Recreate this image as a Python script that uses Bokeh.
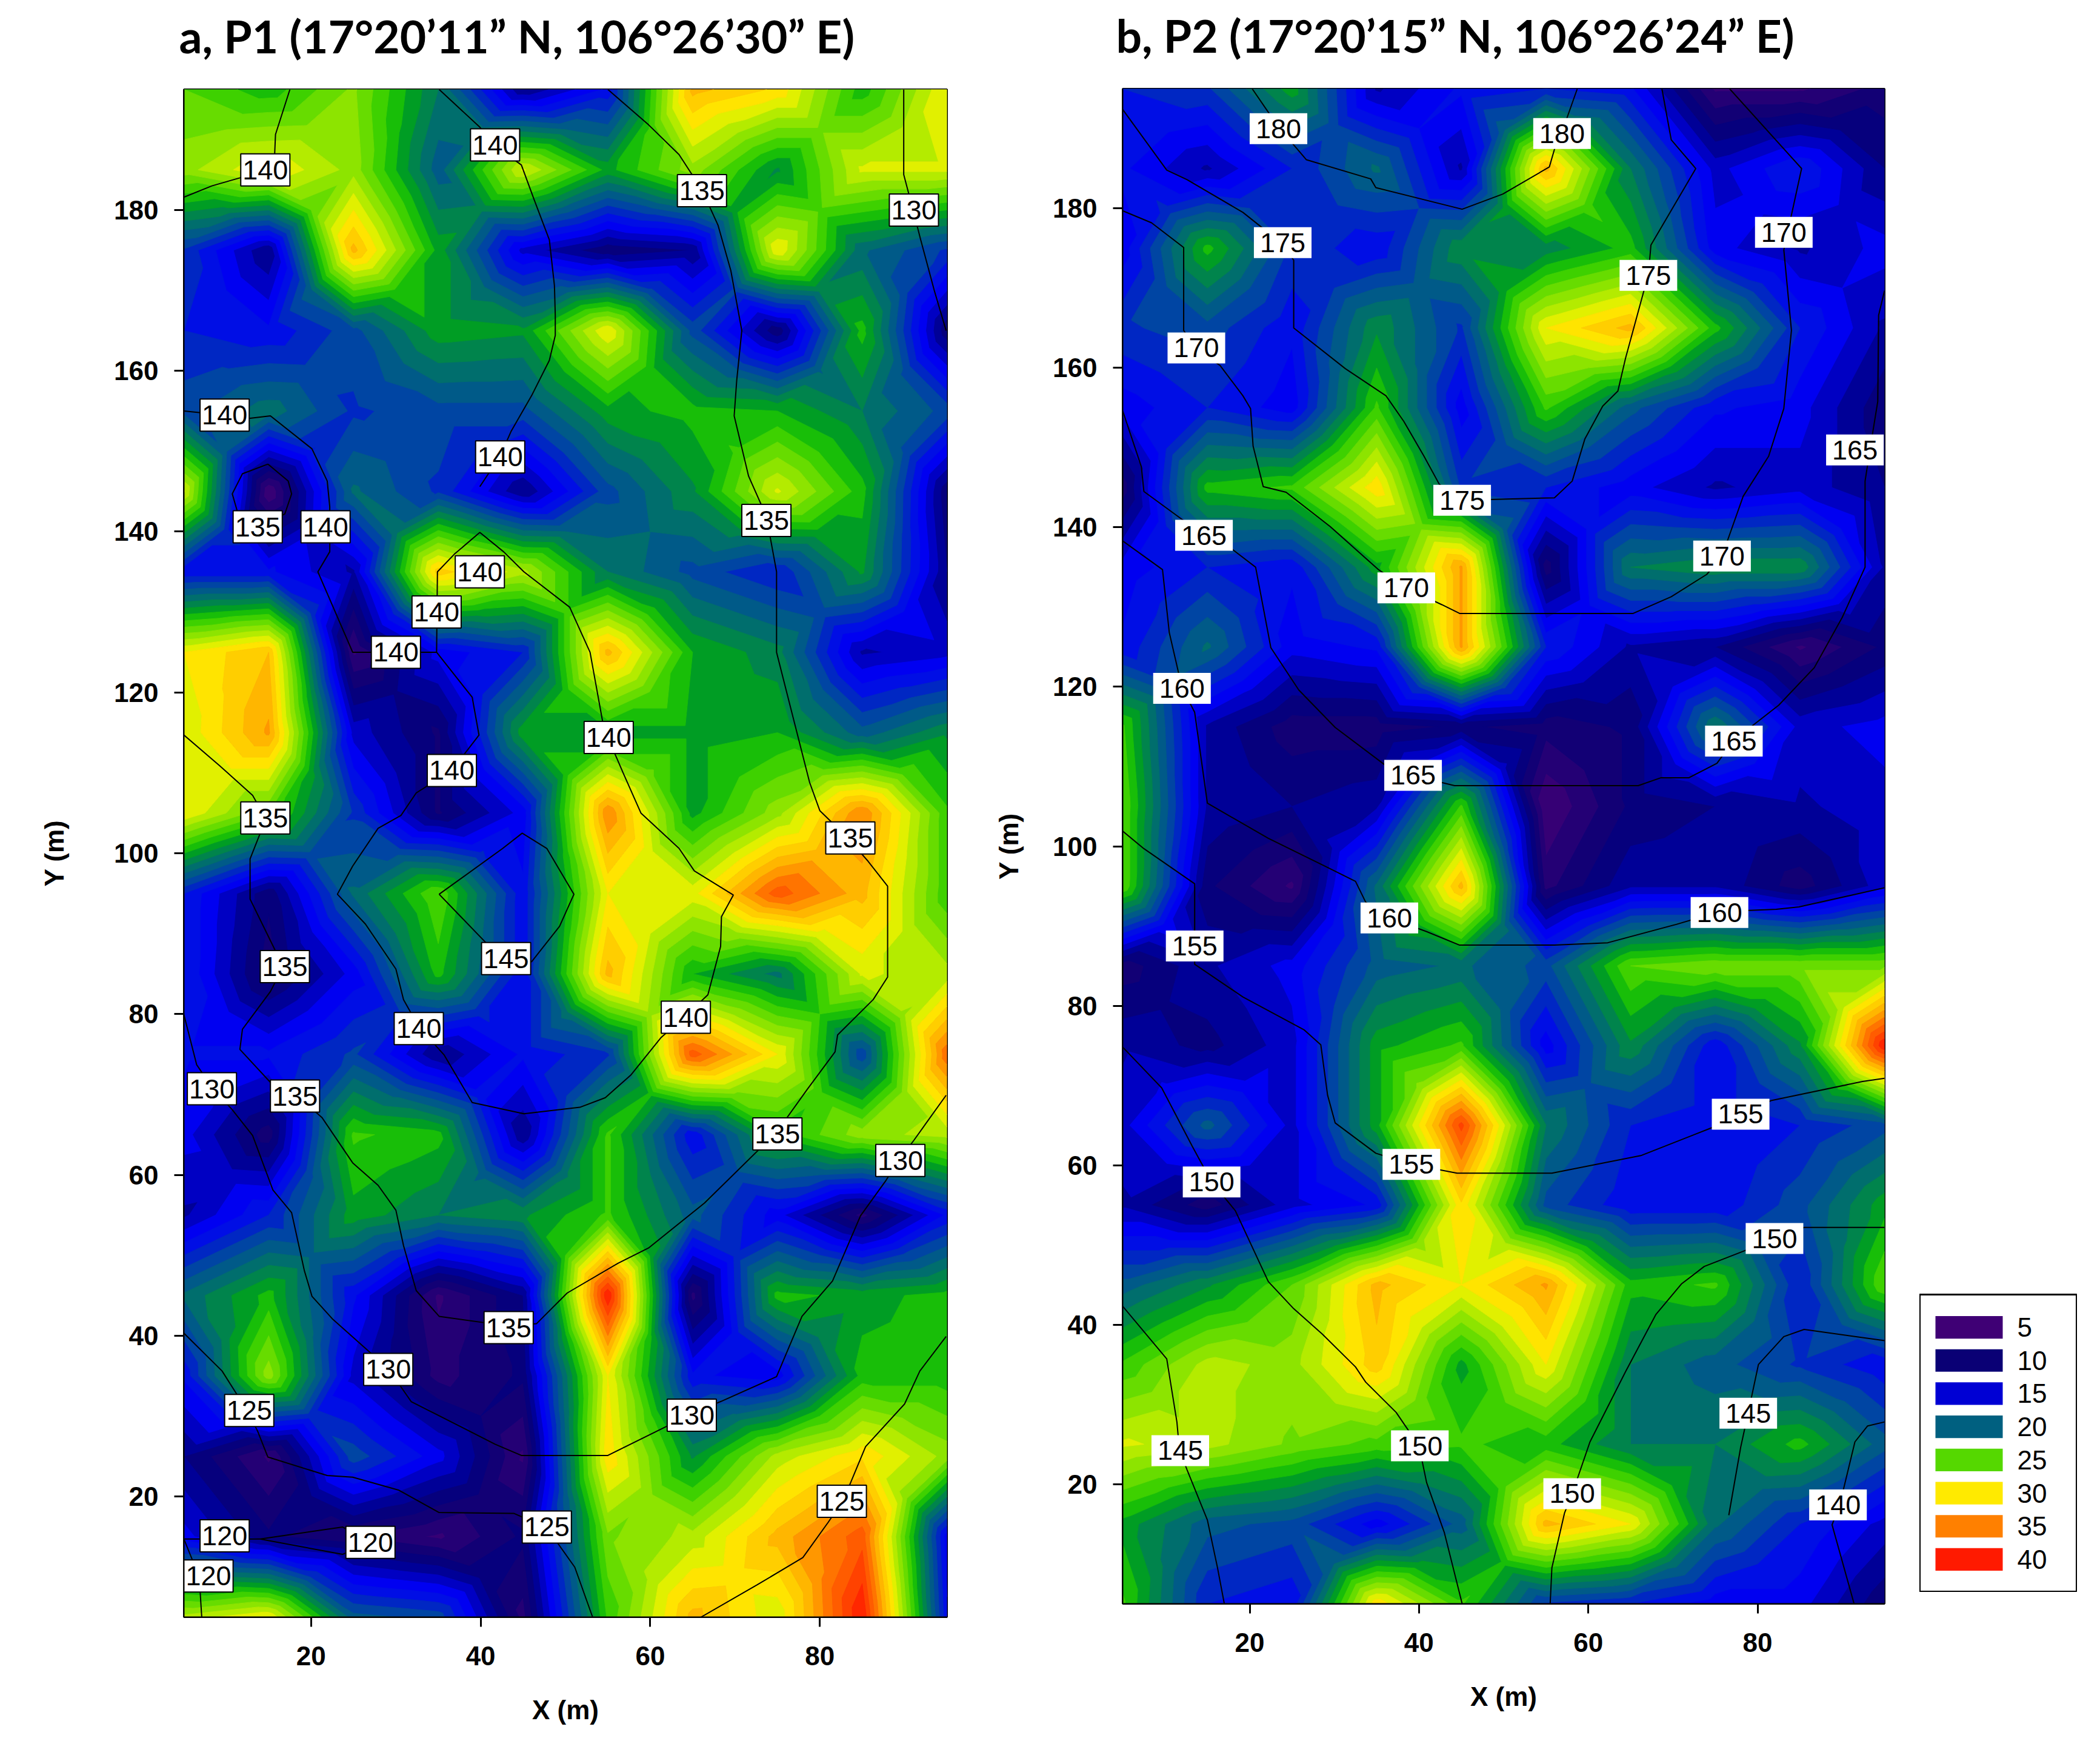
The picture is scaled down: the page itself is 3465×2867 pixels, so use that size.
import numpy as np
from contourpy import FillType, contour_generator
from bokeh.core.properties import value
from bokeh.embed import file_html
from bokeh.layouts import row
from bokeh.models import ColumnDataSource, FixedTicker, Label, Range1d, Title
from bokeh.plotting import figure
from bokeh.resources import INLINE

x_nodes = [5, 15, 25, 35, 45, 55, 65, 75, 85, 95]
y_nodes = [195, 185, 175, 165, 155, 145, 135, 125, 115, 105, 95, 85, 75, 65, 55, 45, 35, 25, 15, 5]

p1_grid = [
    [25, 23, 26.5, 20, 10, 14, 33, 31, 23, 30],
    [27, 30, 27, 18, 29, 22, 27, 21, 29, 29],
    [16, 10, 33, 22, 12, 9, 10, 30, 19, 16],
    [15, 14, 17, 22, 21.5, 30, 17, 9, 23, 9],
    [17, 19.5, 16, 17, 17, 22, 23, 22.5, 20, 17],
    [29, 5, 19, 16, 10, 17, 21, 29, 23, 9],
    [14, 14, 11, 32, 28, 20, 17, 15, 21.5, 10],
    [30, 32.5, 6, 13, 15, 33, 22.5, 20.5, 11, 12],
    [29, 34, 12, 8.5, 22, 22, 22, 22.5, 18, 21],
    [30, 25, 16, 8.5, 13, 35, 22, 27, 35, 24],
    [15, 9, 19, 25, 14, 30, 29.5, 37, 33, 24],
    [15, 8, 13, 23, 14, 33, 22.5, 19.5, 29, 28],
    [14, 14, 16.5, 10, 14, 16, 37, 30, 16.5, 36],
    [13, 8, 24, 23, 10, 24, 14, 23, 27, 28],
    [11, 15, 22, 20, 21, 24, 18, 13, 7, 14],
    [19, 23, 14, 6, 10, 40, 7, 23, 22, 23],
    [14, 27, 12, 7, 9, 30, 14, 13, 23, 23],
    [10, 6, 17, 13, 6, 31, 21, 28, 31, 27],
    [13, 9, 7.5, 6, 9, 26, 28, 33, 37, 13],
    [28, 30, 18, 17, 7, 24, 33, 29, 40, 14],
]

p2_grid = [
    [15, 16, 22, 11, 14, 15, 14, 6, 6, 8],
    [14, 11, 15, 19, 11, 33, 20, 12, 15, 10],
    [13, 23, 16, 14, 21, 20.5, 23, 13, 11, 13],
    [16, 17, 14, 21, 16, 30, 33, 23, 15, 11],
    [13, 15, 13, 24, 13, 24, 18, 14, 13, 9],
    [8, 23, 24, 31, 16, 15, 13, 11, 12, 10],
    [13, 15, 14, 22, 34, 8, 20, 21, 21, 11],
    [14, 19, 13, 14, 34, 15, 11, 10, 6, 9],
    [24, 11, 8, 8, 9, 8, 9, 20, 12, 13],
    [25, 11, 10, 11, 24, 5, 9, 10, 11, 12],
    [25, 9, 6, 19, 33, 7, 11, 11, 8, 12],
    [8, 11, 13, 18, 19, 17, 25, 26, 26, 26],
    [11, 9.5, 12, 22, 24, 13, 21, 14, 21, 40],
    [12, 18, 12, 22, 38, 20, 15, 14, 15, 17],
    [11, 8, 12, 14, 31, 17, 14, 14, 17, 22],
    [18, 21, 25, 33, 30, 34, 23, 24, 15, 25],
    [24, 28, 27, 32, 22, 30, 20, 18, 16, 14],
    [29, 28, 26, 24.5, 24, 23, 20, 20, 23, 18],
    [22, 18, 17, 13, 18, 33, 30, 19, 15, 12],
    [24, 15, 14, 31, 24, 16, 15, 13, 13, 9],
]

# elevation isolines, (x, y) vertices in metres
p1_lines = [
    [(17.5, 195), (15.8, 189.4), (15.7, 186.9), (14.6, 185), (11.6, 184), (8.3, 183), (5, 181.6)],
    [(35.1, 195), (39.9, 190.3), (41.7, 188), (44.8, 185.6), (46.3, 181.3), (48.1, 176.3), (48.7, 170.6),
     (48.8, 166.9), (48.8, 164.4), (48.1, 161.3), (46, 156.9), (43.6, 152.5), (42.3, 149.4), (39.9, 145.6)],
    [(55, 195), (59.8, 190.6), (63.4, 186.9), (66.1, 182.5), (68, 178.1), (69.5, 172.5), (70.8, 165),
     (70.2, 158.8), (69.9, 154.4), (71.6, 146.9), (73.7, 141.9), (74.9, 135), (74.9, 125), (76.1, 120),
     (78.8, 108.8), (80, 105.3), (83.3, 101.9), (85.7, 99), (88, 95.9), (88, 84.6), (86.3, 81.8), (82.1, 77.4),
     (81.8, 75.3), (78.5, 70.6), (74.9, 65.3), (66.4, 56.5), (59.8, 50.9), (56.2, 49), (50.2, 45.3),
     (46.6, 41.5), (43.3, 41.2), (35.1, 42.4), (32.4, 45.6), (30.9, 51.2), (30, 55.6), (27.9, 58.7),
     (24.9, 61.5), (21.3, 67.1), (18.3, 69.9), (15.2, 71.5), (11.6, 75.6), (11.9, 78.1), (15.2, 82.8),
     (16.7, 85.9), (12.8, 94.3), (12.8, 99.3), (14, 102.5), (14.6, 104.4), (13.1, 107.2), (9.2, 110.9),
     (5, 114.7)],
    [(14.9, 148.4), (17.3, 146.3), (17.7, 144.7), (16.9, 142.2), (13.7, 140.6), (11.3, 142.5), (10.7, 144.7),
     (11.9, 147.2), (14.9, 148.4)],
    [(5, 155), (9.8, 154.5), (12.8, 154.1), (15.2, 154.4), (20.1, 150.3), (21.9, 146.3), (22.2, 143.1),
     (22.2, 137.5), (20.8, 135), (24.9, 125), (30, 125), (34.8, 125), (39, 119.4), (39.8, 114.7), (36.6, 110.3),
     (32.4, 107.5), (30.6, 104.7), (27.9, 103.1), (24.9, 98.4), (23.1, 94.9), (26.4, 91.2), (30, 85.6),
     (30.9, 81.8), (32.7, 78.4), (35.7, 74.9), (39, 69), (45.1, 67.6), (51.7, 68.4), (54.7, 69.6), (57.7, 72.4),
     (61.3, 77.1), (64, 79.6), (66.8, 82.4), (68.3, 88.4), (68.4, 92.1), (69.8, 94.8), (65.2, 97.8),
     (63.4, 100.6), (58.9, 105), (56.8, 110), (55, 114.4), (54.4, 116.3), (52.9, 125), (50.5, 130.6),
     (45.1, 135), (42.7, 137.5), (39.9, 139.9), (36.9, 137.2), (34.9, 135), (34.8, 125)],
    [(35.1, 94.9), (42.6, 100.6), (44.9, 102.5), (47.8, 100.6), (51, 94.9), (49.3, 90.9), (46, 86.5), (43, 86.8),
     (40.5, 89), (35.1, 94.9)],
    [(89.9, 195), (89.9, 184.4), (91, 180), (91.9, 176.3), (93.5, 170), (94.9, 165)],
    [(5, 79.9), (6.5, 73.7), (8.3, 70.9), (10.7, 68.1), (13.1, 64.9), (15.5, 58.1), (17.7, 55.3), (19.2, 48.1),
     (20.1, 44.9), (22.5, 42.1), (29.1, 35.9), (31.8, 31.8), (41.7, 26.5), (44.8, 25.1), (55, 25.1), (61.9, 28.7),
     (64.9, 30.3), (68.3, 31.8), (74.9, 34.9), (77.9, 42.4), (81.5, 46.8), (84.8, 54.9), (87.8, 59.3),
     (89.3, 61.8), (91.1, 64.3), (94.9, 69.9)],
    [(5, 40.3), (9.5, 35.6), (12.5, 30.6), (13.7, 28.1), (14.9, 24.9), (21.9, 22.6), (24.9, 22.4), (30.3, 20.8),
     (35.1, 18), (43.9, 17.9), (47.8, 16.1), (51.1, 11.2), (53.2, 5)],
    [(94.9, 39.9), (91.8, 35.6), (90, 31.5), (85.4, 26.2), (82.8, 19.6), (81, 16.8), (78, 12.4), (72.6, 9), (66, 5)],
    [(5, 14.7), (14, 14.7), (23.7, 16.2), (27, 14.3), (23.7, 12.8), (14, 14.7)],
    [(5, 14.7), (6.8, 10), (7.1, 5)],
]

p2_lines = [
    [(20.3, 195), (23.4, 190.2), (26.7, 186.1), (34.3, 183.7), (34.9, 182.6), (45.1, 179.9), (49.9, 181.8),
     (55.4, 185.2), (56, 187.4), (56.9, 189.6), (58.7, 195)],
    [(5, 192.4), (10.2, 184.8), (12.6, 183.6), (19.2, 179.5), (23.7, 175.7), (25.2, 173.5), (25.2, 165),
     (31.3, 159.9), (36.1, 156.5), (38.2, 153.3), (40.6, 148.9), (42.4, 145.4), (45.1, 143.4), (56, 143.7),
     (58.1, 145.8), (59.6, 151.1), (61.7, 155.2), (63.5, 157.1), (64.4, 161.2), (66.5, 169.4), (67.1, 171.6),
     (67.4, 175.4), (72.7, 185), (69.8, 188.6), (68.7, 195)],
    [(5, 179.7), (8.4, 178.2), (12.2, 175.1), (12.2, 164.7), (13.5, 162.5), (16.5, 160.3), (19.2, 156.5),
     (20.1, 154.9), (20.4, 150.2), (21.6, 145.1), (24.3, 144.4), (29.5, 140.1), (35.2, 134.7), (38.5, 132.4),
     (42.7, 130.3), (44.8, 129.2), (65.3, 129.2), (69.8, 131.3), (74, 134.1), (75.8, 136.4), (78.3, 143.9),
     (81.3, 148.9), (83.1, 154.9), (84, 164.7), (83.1, 174.8), (85.2, 185), (76.7, 195)],
    [(5, 154.6), (7.2, 147.6), (7.5, 144.5), (12, 141), (14.5, 139.1), (18, 137.2), (20.7, 135), (22.5, 124.9),
     (25.8, 119.6), (30.1, 114.9), (36.1, 110.1), (39.2, 108.9), (44.2, 107.6), (65.9, 107.6), (68.6, 108.6),
     (71.9, 108.6), (75.2, 110.4), (77.2, 113.3), (82.5, 117.7), (86.7, 122.4), (90, 128.7), (92.7, 135),
     (92.7, 145.8), (93.3, 149.9), (94.2, 155.8), (94.3, 166.6), (95, 169.7)],
    [(5, 138.3), (9.7, 134.7), (10.5, 126.8), (12, 119.9), (13.5, 116.8), (15, 105.4), (22.2, 101), (28.9, 97.5),
     (32.5, 95.6), (33.7, 93), (36.5, 91), (40.9, 89.3), (44.8, 87.6), (56, 87.6), (62.3, 87.9), (70.4, 90.2),
     (75.5, 91.8), (82.2, 92.1), (84.9, 92.4), (95, 94.8)],
    [(5, 101.9), (7.5, 99.7), (13.5, 95.3), (13.5, 85.2), (19.2, 81.1), (26.4, 77), (28.4, 75.1), (29.2, 68.8),
     (30.1, 65.3), (34.9, 61.5), (39.1, 60.1), (44.5, 59), (55.7, 59), (66.2, 61.2), (74.6, 64.7), (78, 66.4),
     (81.6, 68.1), (92.4, 70.5), (95, 70.9)],
    [(5, 74.8), (9.6, 69.7), (13.2, 62.4), (15.5, 57.9), (18.3, 54.3), (22.2, 45.4), (25.2, 42), (28.6, 38.8),
     (32.5, 34.7), (33.7, 32.8), (37.3, 29), (40, 24.8), (40.9, 20.2), (43, 13.9), (45.1, 5)],
    [(55.5, 5), (55.7, 9.5), (57.2, 16.4), (58.1, 18.8), (60.2, 25.3), (64.4, 34.1), (68, 41.3), (71, 45.1),
     (73.7, 47.3), (78.3, 49.2), (82, 50.8), (85.5, 52.2), (95, 52.2)],
    [(5, 42.3), (10.2, 35.7), (11.4, 27.8), (11.7, 24.3), (12.6, 21.8), (15, 15.5), (16.2, 9.5), (17, 5)],
    [(95, 38), (85.5, 39.4), (83.1, 38.5), (80.1, 35), (78.9, 29), (78, 24.6), (76.6, 16.1)],
    [(95, 27.8), (93, 27.3), (91.5, 25.3), (89.7, 17.4), (88.8, 14.9), (91.4, 5)],
]

p1_labels = ["140", "140", "135", "130", "140", "140", "135", "140", "135", "140", "140", "140", "140", "140", "135",
             "135", "145", "135", "140", "140", "130", "135", "135", "130", "135", "130", "125", "130", "125", "125",
             "120", "120", "120"]
p1_label_x = [14.6, 41.7, 66.1, 91.1, 9.8, 42.3, 13.7, 21.7, 73.7, 39.9, 34.8, 30, 55.1, 36.6, 14.6,
              83.6, 43, 16.9, 32.7, 64.2, 8.3, 18.1, 75, 89.5, 43.3, 29.1, 12.7, 64.9, 82.6, 47.8,
              9.8, 27, 7.9]
p1_label_y = [185, 188.1, 182.4, 180, 154.5, 149.3, 140.6, 140.6, 141.4, 135, 130, 125, 114.4, 110.3, 104.4,
              101.9, 86.9, 85.9, 78.2, 79.6, 70.7, 69.8, 65.1, 61.8, 41, 35.8, 30.7, 30.1, 19.4, 16.2,
              15.1, 14.3, 10.1]

p2_labels = ["180", "180", "175", "170", "175", "170", "165", "175", "165", "170", "170", "160", "165", "165",
             "160", "160", "155", "155", "155", "150", "150", "145", "145", "150", "150", "140"]
p2_label_x = [23.4, 56.9, 23.9, 83.1, 67.1, 13.7, 91.5, 45.1, 14.6, 75.8, 38.5, 12, 77.2, 39.3,
              36.5, 75.5, 13.5, 78, 39.1, 15.5, 82, 78.9, 11.8, 40.1, 58.1, 89.5]
p2_label_y = [190, 189.4, 175.7, 177, 171.6, 162.5, 149.7, 143.4, 139, 136.4, 132.4, 119.8, 113.2, 108.9,
              91, 91.7, 87.5, 66.4, 60.1, 57.9, 50.8, 28.9, 24.2, 24.8, 18.8, 17.4]

legend_levels = [5, 10, 15, 20, 25, 30, 35, 40]
legend_colors = ["#3f0075", "#0a0075", "#0000d4", "#006080", "#55d800", "#ffea00", "#ff8000", "#ff1a00"]

# colour ramp stops of the filled map
ramp_values = [2.5, 5, 8, 10, 12, 13.5, 15, 17, 20, 22, 23.5, 25, 27.5, 29, 30, 32, 34, 35, 37.5, 40, 45]
ramp_colors = [(64, 0, 117), (64, 0, 117), (20, 0, 117), (0, 0, 130), (0, 0, 200), (0, 0, 255), (0, 24, 212),
               (0, 72, 160), (0, 120, 96), (0, 160, 32), (32, 200, 0), (85, 216, 0), (160, 232, 0), (208, 240, 0),
               (255, 240, 0), (255, 204, 0), (255, 165, 0), (255, 128, 0), (255, 80, 0), (255, 26, 0), (255, 0, 0)]

x_ticks = [20, 40, 60, 80]
y_ticks = [20, 40, 60, 80, 100, 120, 140, 160, 180]
levels = list(np.arange(2.5, 45.01, 1.25))


def band_colors():
    mids = (np.array(levels[:-1]) + np.array(levels[1:])) / 2
    ramp = np.array(ramp_colors, dtype=float)
    chans = [np.interp(mids, ramp_values, ramp[:, i]) for i in range(3)]
    return ["#%02x%02x%02x" % (int(r), int(g), int(b)) for r, g, b in zip(*chans)]


def filled_bands(grid):
    # triangulated cells give the octagon shaped peaks of the original map
    z = np.array(grid, dtype=float)[::-1]
    gen = contour_generator(x_nodes, y_nodes[::-1], z, name="serial", quad_as_tri=True,
                            fill_type=FillType.OuterOffset)
    xs, ys, colors = [], [], []
    for lo, hi, color in zip(levels[:-1], levels[1:], band_colors()):
        points, offsets = gen.filled(lo, hi)
        if not points:
            continue
        band_x, band_y = [], []
        for pts, offs in zip(points, offsets):
            rings = [pts[a:b] for a, b in zip(offs[:-1], offs[1:])]
            band_x.append([list(r[:, 0]) for r in rings])
            band_y.append([list(r[:, 1]) for r in rings])
        xs.append(band_x)
        ys.append(band_y)
        colors.append(color)
    return ColumnDataSource(dict(xs=xs, ys=ys, color=colors))


def map_panel(title, grid, lines, labels, label_x, label_y, width, height, left, right, top, bottom,
              pad, box_line, y_standoff, title_offset):
    # the title needs more room than the top border has, hence the negative margin
    p = figure(width=width, height=height, min_border_left=left, min_border_right=right, min_border_top=top,
               min_border_bottom=bottom, x_range=Range1d(5, 95), y_range=Range1d(5, 195), frame_align=False,
               output_backend="svg", toolbar_location=None, background_fill_color="#0000d4",
               margin=(-33, 0, 0, 0))
    p.title = Title(text=title, text_font="Lato", text_font_size="75px", text_font_style="bold",
                    text_color="black", offset=title_offset, standoff=87)

    p.multi_polygons("xs", "ys", source=filled_bands(grid), fill_color="color", line_color="color", line_width=1)

    p.multi_line([[v[0] for v in line] for line in lines], [[v[1] for v in line] for line in lines],
                 line_color="black", line_width=2)

    for text, x, y in zip(labels, label_x, label_y):
        p.add_layout(Label(x=x, y=y, text=text, text_font="Liberation Sans", text_font_size="45px",
                           text_align="center", text_baseline="middle", text_color="black", padding=pad,
                           background_fill_color="white", border_line_color=box_line, border_line_width=2,
                           level="overlay"))

    p.grid.visible = False
    p.outline_line_color = "black"
    p.outline_line_width = 3
    p.xaxis.ticker = FixedTicker(ticks=x_ticks)
    p.yaxis.ticker = FixedTicker(ticks=y_ticks)
    p.xaxis.axis_label = "X (m)"
    p.yaxis.axis_label = "Y (m)"
    p.axis.axis_label_text_font = "Liberation Sans"
    p.axis.axis_label_text_font_size = "44px"
    p.axis.axis_label_text_font_style = "bold"
    p.axis.axis_label_text_color = "black"
    p.axis.major_label_text_font = "Liberation Sans"
    p.axis.major_label_text_font_size = "44px"
    p.axis.major_label_text_font_style = "bold"
    p.axis.major_label_text_color = "black"
    p.axis.major_tick_line_color = "black"
    p.axis.major_tick_line_width = 3
    p.axis.major_tick_in = 0
    p.axis.major_tick_out = 16
    p.axis.minor_tick_line_color = None
    p.axis.axis_line_color = "black"
    p.axis.axis_line_width = 2
    p.xaxis.major_label_standoff = 32
    p.yaxis.major_label_standoff = 26
    p.xaxis.axis_label_standoff = 46
    p.yaxis.axis_label_standoff = y_standoff
    return p


p1 = map_panel("a, P1 (17°20’11” N, 106°26’30” E)", p1_grid, p1_lines, p1_labels, p1_label_x, p1_label_y,
               1590, 2891, 303, 28, 180, 191, (3, 11), "black", 71, -8)
p2 = map_panel("b, P2 (17°20’15” N, 106°26’24” E)", p2_grid, p2_lines, p2_labels, p2_label_x, p2_label_y,
               1577, 2891, 262, 58, 179, 213, (10, 10), None, 45, -11)

legend = figure(width=260, height=2626, min_border_left=0, min_border_right=0, min_border_top=2135,
                min_border_bottom=0, x_range=Range1d(0, 260), y_range=Range1d(44.94, 0.06), frame_align=False,
                output_backend="svg", toolbar_location=None)
legend.hbar(y=legend_levels, left=26, right=137, height=3.4, fill_color=legend_colors, line_color=None)
legend.text(x=[161] * len(legend_levels), y=legend_levels, text=[str(v) for v in legend_levels],
            text_font=value("Liberation Sans"), text_font_size="44px", text_align="left",
            text_baseline="middle", text_color="black")
legend.axis.visible = False
legend.grid.visible = False
legend.outline_line_color = "black"
legend.outline_line_width = 3

page = row(p1, p2, legend)
open("out.html", "w").write(file_html(page, INLINE))
